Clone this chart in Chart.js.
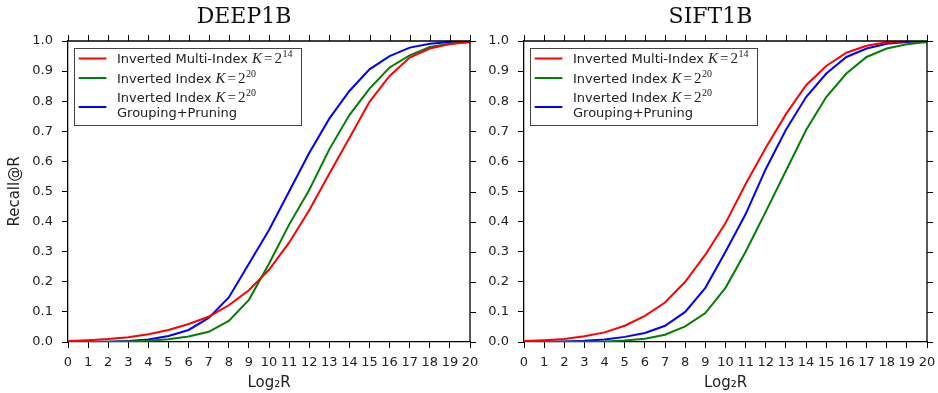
<!DOCTYPE html>
<html>
<head>
<meta charset="utf-8">
<script src="https://cdn.jsdelivr.net/npm/chart.js@4"></script>
<style>
  body { margin: 0; background: #fff; }
  .plot { position: absolute; top: 0; height: 393px; }
  #left { left: 0; width: 480px; }
  #right { left: 480px; width: 458px; }
</style>
</head>
<body>
<div class="plot" id="left"><canvas id="deepChart"></canvas></div>
<div class="plot" id="right"><canvas id="siftChart"></canvas></div>
<script>
// x positions (log2 R)
const log2R = [0, 1, 2, 3, 4, 5, 6, 7, 8, 9, 10, 11, 12, 13, 14, 15, 16, 17, 18, 19, 20];
const yTicks = [0, 0.1, 0.2, 0.3, 0.4, 0.5, 0.6, 0.7, 0.8, 0.9, 1.0];

// DEEP1B
const deepMulti = [0.003, 0.006, 0.010, 0.016, 0.026, 0.040, 0.060, 0.084, 0.122, 0.172, 0.240, 0.330, 0.438, 0.559, 0.678, 0.798, 0.884, 0.945, 0.975, 0.990, 0.997];
const deepIndex = [0.000, 0.000, 0.001, 0.002, 0.004, 0.009, 0.018, 0.034, 0.070, 0.140, 0.260, 0.390, 0.505, 0.640, 0.754, 0.842, 0.912, 0.952, 0.980, 0.991, 0.997];
const deepGP = [0.000, 0.000, 0.001, 0.003, 0.008, 0.020, 0.040, 0.080, 0.148, 0.260, 0.372, 0.500, 0.628, 0.742, 0.834, 0.906, 0.950, 0.978, 0.991, 0.997, 1.000];

// SIFT1B
const siftMulti = [0.003, 0.006, 0.010, 0.019, 0.032, 0.054, 0.087, 0.131, 0.200, 0.290, 0.395, 0.525, 0.645, 0.757, 0.853, 0.917, 0.961, 0.984, 0.996, 0.999, 1.000];
const siftIndex = [0.000, 0.000, 0.001, 0.001, 0.002, 0.005, 0.011, 0.024, 0.052, 0.096, 0.180, 0.300, 0.433, 0.569, 0.704, 0.814, 0.892, 0.947, 0.975, 0.989, 0.997];
const siftGP = [0.000, 0.001, 0.002, 0.004, 0.008, 0.017, 0.030, 0.054, 0.100, 0.180, 0.300, 0.425, 0.575, 0.705, 0.814, 0.892, 0.947, 0.975, 0.991, 0.997, 1.000];

const legendRows = [
  { text: "Inverted Multi-Index ", exp: "14", color: "#ff0000" },
  { text: "Inverted Index ", exp: "20", color: "#008000" },
  { text: "Inverted Index ", exp: "20", color: "#0000ff", line2: "Grouping+Pruning" },
];

const sansFont = "'DejaVu Sans', sans-serif";
const serifFont = "'DejaVu Serif', serif";

function toPoints(values) {
  return values.map((v, i) => ({ x: log2R[i], y: v }));
}

// "K = 2^exp" drawn as math-ish text
function drawMath(ctx, x, y, exp) {
  ctx.textBaseline = "alphabetic";
  ctx.font = "italic 15px 'Liberation Serif', serif";
  ctx.fillText("K", x, y);
  x += ctx.measureText("K").width + 2;
  ctx.font = "15px 'Liberation Serif', serif";
  ctx.fillText("=", x, y);
  x += ctx.measureText("=").width + 2;
  ctx.fillText("2", x, y);
  x += ctx.measureText("2").width + 0.5;
  ctx.font = "10px 'Liberation Serif', serif";
  ctx.fillText(exp, x, y - 6);
}

const framePlugin = {
  id: "frame",
  afterDraw(chart, args, opts) {
    const ctx = chart.ctx;
    const { left, right, top, bottom } = chart.chartArea;
    const xs = chart.scales.x;
    const ys = chart.scales.y;
    ctx.save();
    ctx.strokeStyle = "#000";
    ctx.lineWidth = 1.3;
    ctx.beginPath();
    ctx.moveTo(left, top);
    ctx.lineTo(right, top);
    ctx.lineTo(right, bottom);
    ctx.stroke();
    ctx.lineWidth = 1;
    ctx.beginPath();
    xs.ticks.forEach((t) => {
      const px = Math.round(xs.getPixelForValue(t.value)) + 0.5;
      ctx.moveTo(px, top - 6);
      ctx.lineTo(px, top);
    });
    ys.ticks.forEach((t) => {
      const py = Math.round(ys.getPixelForValue(t.value)) + 0.5;
      ctx.moveTo(right, py);
      ctx.lineTo(right + 6, py);
    });
    ctx.stroke();

    // title
    ctx.fillStyle = "#111";
    ctx.font = "22px " + serifFont;
    ctx.textAlign = "center";
    ctx.textBaseline = "alphabetic";
    ctx.fillText(opts.title, (left + right) / 2 + opts.titleShift, 23);

    // legend
    const bx = left + 6, by = top + 6.5;
    ctx.fillStyle = "#fff";
    ctx.fillRect(bx, by, 227.5, 77);
    ctx.strokeStyle = "#444";
    ctx.lineWidth = 1;
    ctx.strokeRect(Math.round(bx) + 0.5, Math.round(by) + 0.5, 227, 77);
    const rowY = [top + 17.5, top + 37, top + 56];
    ctx.textAlign = "left";
    legendRows.forEach((row, i) => {
      const handleY = row.line2 ? top + 66 : rowY[i];
      ctx.strokeStyle = row.color;
      ctx.lineWidth = 2;
      ctx.beginPath();
      ctx.moveTo(left + 10.7, handleY);
      ctx.lineTo(left + 38.4, handleY);
      ctx.stroke();
      ctx.fillStyle = "#222";
      ctx.font = "13px " + sansFont;
      ctx.textBaseline = "alphabetic";
      const base = rowY[i] + 4.7;
      ctx.fillText(row.text, left + 49, base);
      const w = ctx.measureText(row.text).width;
      drawMath(ctx, left + 49 + w, base, row.exp);
      if (row.line2) {
        ctx.font = "13px " + sansFont;
        ctx.fillText(row.line2, left + 49, top + 71 + 4.7);
      }
    });
    ctx.restore();
  },
};

function makeConfig(multi, index, gp, opts) {
  return {
    type: "line",
    data: {
      datasets: [
        { label: "Inverted Multi-Index K=2^14", data: toPoints(multi), borderColor: "#ff0000" },
        { label: "Inverted Index K=2^20", data: toPoints(index), borderColor: "#008000" },
        { label: "Inverted Index K=2^20 Grouping+Pruning", data: toPoints(gp), borderColor: "#0000ff" },
      ],
    },
    options: {
      responsive: true,
      maintainAspectRatio: false,
      animation: false,
      layout: { padding: { top: 41, right: opts.padRight, left: 0, bottom: 0 } },
      elements: {
        line: { borderWidth: 2, tension: 0, fill: false },
        point: { radius: 0 },
      },
      plugins: {
        legend: { display: false },
        tooltip: { enabled: false },
        frame: { title: opts.title, titleShift: opts.titleShift },
      },
      scales: {
        x: {
          type: "linear",
          min: 0,
          max: 20,
          afterBuildTicks: (scale) => { scale.ticks = log2R.map((v) => ({ value: v })); },
          ticks: { color: "#222", font: { family: sansFont, size: 13 }, padding: 7, maxRotation: 0, autoSkip: false },
          grid: { drawOnChartArea: false, drawTicks: true, tickLength: 6, color: "#000" },
          border: { color: "#000", width: 1.3 },
          title: { display: true, text: "Log\u2082R", color: "#222", font: { family: sansFont, size: 15 }, padding: { top: 0, bottom: 1 } },
          afterFit: (scale) => {
            scale.height = 51;
            // keep the plot edge where the reference has it
            scale.paddingLeft = 0;
            scale.paddingRight = 0;
          },
        },
        y: {
          min: 0,
          max: 1,
          afterBuildTicks: (scale) => { scale.ticks = yTicks.map((v) => ({ value: v })); },
          ticks: { color: "#222", font: { family: sansFont, size: 13 }, padding: 9, callback: (v) => v.toFixed(1) },
          grid: { drawOnChartArea: false, drawTicks: true, tickLength: 6, color: "#000" },
          border: { color: "#000", width: 1.3 },
          title: { display: opts.yTitle, text: "Recall@R", color: "#222", font: { family: sansFont, size: 15 }, padding: { top: 6, bottom: 0 } },
          afterFit: (scale) => {
            scale.width = opts.yWidth;
            scale.paddingTop = 0;
            scale.paddingBottom = 0;
          },
        },
      },
    },
    plugins: [framePlugin],
  };
}

new Chart(document.getElementById("deepChart"),
  makeConfig(deepMulti, deepIndex, deepGP, { title: "DEEP1B", titleShift: -25, padRight: 10, yWidth: 68, yTitle: true }));
new Chart(document.getElementById("siftChart"),
  makeConfig(siftMulti, siftIndex, siftGP, { title: "SIFT1B", titleShift: -15, padRight: 11, yWidth: 44, yTitle: false }));
</script>
</body>
</html>
